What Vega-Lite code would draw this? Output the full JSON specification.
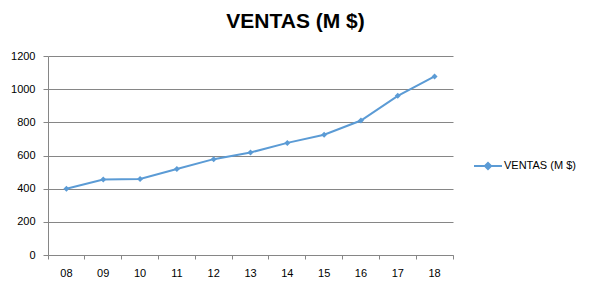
{
  "$schema": "https://vega.github.io/schema/vega-lite/v6.json",
  "autosize": {"type": "none"},
  "width": 405,
  "height": 199,
  "padding": {"left": 48, "top": 56, "right": 138, "bottom": 35},
  "background": "white",
  "title": {
    "text": "VENTAS (M $)",
    "font": "Liberation Sans",
    "fontSize": 21,
    "fontWeight": "bold",
    "color": "#000000",
    "anchor": "middle",
    "frame": "group",
    "dx": 45,
    "offset": 18
  },
  "data": {
    "values": [
      {"anio": "08", "ventas": 400, "serie": "VENTAS (M $)"},
      {"anio": "09", "ventas": 455, "serie": "VENTAS (M $)"},
      {"anio": "10", "ventas": 458, "serie": "VENTAS (M $)"},
      {"anio": "11", "ventas": 519, "serie": "VENTAS (M $)"},
      {"anio": "12", "ventas": 578, "serie": "VENTAS (M $)"},
      {"anio": "13", "ventas": 618, "serie": "VENTAS (M $)"},
      {"anio": "14", "ventas": 676, "serie": "VENTAS (M $)"},
      {"anio": "15", "ventas": 725, "serie": "VENTAS (M $)"},
      {"anio": "16", "ventas": 811, "serie": "VENTAS (M $)"},
      {"anio": "17", "ventas": 960, "serie": "VENTAS (M $)"},
      {"anio": "18", "ventas": 1077, "serie": "VENTAS (M $)"}
    ]
  },
  "mark": {
    "type": "line",
    "strokeWidth": 2,
    "point": {"shape": "diamond", "size": 36, "filled": true, "opacity": 1}
  },
  "encoding": {
    "x": {
      "field": "anio",
      "type": "ordinal",
      "bandPosition": 0.5,
      "scale": {"type": "band", "paddingInner": 0, "paddingOuter": 0},
      "axis": {
        "title": null,
        "labelAngle": 0,
        "grid": false,
        "bandPosition": 1,
        "tickExtra": true,
        "tickSize": 4,
        "tickColor": "#868686",
        "domainColor": "#868686",
        "labelPadding": 8,
        "labelFont": "Liberation Sans",
        "labelFontSize": 11,
        "labelColor": "#000000"
      }
    },
    "y": {
      "field": "ventas",
      "type": "quantitative",
      "scale": {"domain": [0, 1200], "nice": false},
      "axis": {
        "title": null,
        "values": [0, 200, 400, 600, 800, 1000, 1200],
        "format": "d",
        "grid": true,
        "gridColor": "#868686",
        "tickSize": 5,
        "tickColor": "#868686",
        "domainColor": "#868686",
        "labelPadding": 8,
        "labelFont": "Liberation Sans",
        "labelFontSize": 11,
        "labelColor": "#000000"
      }
    },
    "color": {
      "field": "serie",
      "type": "nominal",
      "scale": {"range": ["#5B9BD5"]},
      "legend": {
        "title": null,
        "orient": "none",
        "legendX": 425,
        "legendY": 95,
        "symbolType": "M-1,0L1,0M-0.22,0L0,-0.22L0.22,0L0,0.22Z",
        "symbolSize": 784,
        "symbolStrokeWidth": 2,
        "symbolStrokeColor": "#5B9BD5",
        "symbolFillColor": "#5B9BD5",
        "labelOffset": 1,
        "labelFont": "Liberation Sans",
        "labelFontSize": 11,
        "labelColor": "#000000"
      }
    }
  },
  "config": {
    "view": {"stroke": null}
  }
}
